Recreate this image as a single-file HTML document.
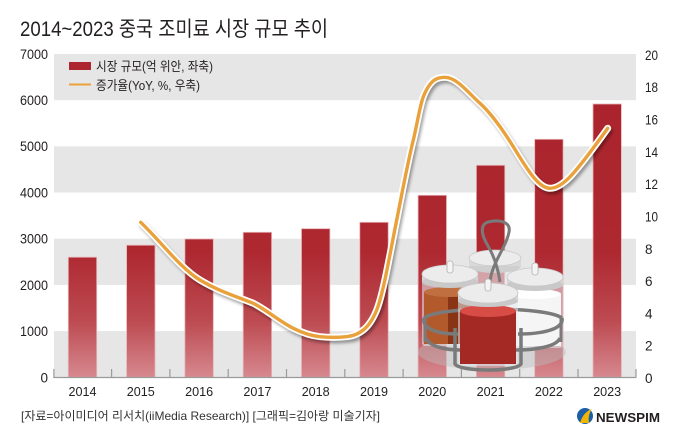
<!DOCTYPE html>
<html><head><meta charset="utf-8"><style>
html,body{margin:0;padding:0;background:#fff;}
svg{display:block;}
text{font-family:"Liberation Sans","Noto Sans CJK KR",sans-serif;}
</style></head><body>
<svg width="680" height="442" viewBox="0 0 680 442" xmlns="http://www.w3.org/2000/svg">
<defs>
<linearGradient id="bg" gradientUnits="userSpaceOnUse" x1="0" y1="100" x2="0" y2="377">
<stop offset="0" stop-color="#ab242d"/>
<stop offset="0.55" stop-color="#ae2830"/>
<stop offset="0.8" stop-color="#bd4b52"/>
<stop offset="1" stop-color="#d6888e"/>
</linearGradient>
<filter id="sh" x="-10%" y="-10%" width="120%" height="120%"><feGaussianBlur stdDeviation="1.6"/></filter>
</defs>
<rect width="680" height="442" fill="#fff"/>
<!-- title -->
<text x="20" y="36" font-size="21" fill="#231f20" textLength="308" lengthAdjust="spacingAndGlyphs">2014~2023 중국 조미료 시장 규모 추이</text>
<!-- bands -->
<g fill="#e6e6e6">
<rect x="54" y="54" width="582" height="46.2"/>
<rect x="54" y="146.3" width="582" height="46.2"/>
<rect x="54" y="238.7" width="582" height="46.2"/>
<rect x="54" y="331.1" width="582" height="46.2"/>
</g>
<!-- legend -->
<rect x="69" y="62" width="22" height="8" fill="#ad252e"/>
<text x="96" y="71" font-size="13" fill="#231f20" textLength="117" lengthAdjust="spacingAndGlyphs">시장 규모(억 위안, 좌축)</text>
<line x1="69" y1="84.5" x2="91" y2="84.5" stroke="#eaa33e" stroke-width="2"/>
<text x="96" y="90" font-size="13" fill="#231f20" textLength="104" lengthAdjust="spacingAndGlyphs">증가율(YoY, %, 우축)</text>
<!-- left axis labels -->
<g font-size="13.5" fill="#231f20" text-anchor="end">
<text x="48" y="59" textLength="28" lengthAdjust="spacingAndGlyphs">7000</text>
<text x="48" y="105" textLength="28" lengthAdjust="spacingAndGlyphs">6000</text>
<text x="48" y="151" textLength="28" lengthAdjust="spacingAndGlyphs">5000</text>
<text x="48" y="197.5" textLength="28" lengthAdjust="spacingAndGlyphs">4000</text>
<text x="48" y="243.7" textLength="28" lengthAdjust="spacingAndGlyphs">3000</text>
<text x="48" y="290" textLength="28" lengthAdjust="spacingAndGlyphs">2000</text>
<text x="48" y="336" textLength="28" lengthAdjust="spacingAndGlyphs">1000</text>
<text x="48" y="382.3">0</text>
</g>
<!-- right axis labels -->
<g font-size="13.5" fill="#231f20">
<text x="645" y="60" textLength="13" lengthAdjust="spacingAndGlyphs">20</text>
<text x="645" y="92" textLength="13" lengthAdjust="spacingAndGlyphs">18</text>
<text x="645" y="124.5" textLength="13" lengthAdjust="spacingAndGlyphs">16</text>
<text x="645" y="157" textLength="13" lengthAdjust="spacingAndGlyphs">14</text>
<text x="645" y="189" textLength="13" lengthAdjust="spacingAndGlyphs">12</text>
<text x="645" y="221.5" textLength="13" lengthAdjust="spacingAndGlyphs">10</text>
<text x="645" y="254">8</text>
<text x="645" y="286">6</text>
<text x="645" y="318.5">4</text>
<text x="645" y="350.5">2</text>
<text x="645" y="383">0</text>
</g>
<!-- bars -->
<g fill="url(#bg)" stroke="#e7b4b7" stroke-width="0.8">
<rect x="68.3" y="257.2" width="28.4" height="120.1"/>
<rect x="126.6" y="245.2" width="28.4" height="132.1"/>
<rect x="184.9" y="239" width="28.4" height="138.3"/>
<rect x="243.2" y="232.3" width="28.4" height="145"/>
<rect x="301.5" y="228.7" width="28.4" height="148.6"/>
<rect x="359.8" y="222.3" width="28.4" height="155"/>
<rect x="418.1" y="195.3" width="28.4" height="182"/>
<rect x="476.4" y="165.3" width="28.4" height="212"/>
<rect x="534.7" y="139.3" width="28.4" height="238"/>
<rect x="593" y="104" width="28.4" height="273.3"/>
</g>
<!-- baseline & ticks -->
<g stroke="#9a9a9a" stroke-width="1.2">
<line x1="53.4" y1="377.5" x2="636.3" y2="377.5"/>
<line x1="53.9" y1="369" x2="53.9" y2="377.5"/>
<line x1="111.6" y1="369" x2="111.6" y2="377.5"/>
<line x1="169.9" y1="369" x2="169.9" y2="377.5"/>
<line x1="228.2" y1="369" x2="228.2" y2="377.5"/>
<line x1="286.5" y1="369" x2="286.5" y2="377.5"/>
<line x1="344.8" y1="369" x2="344.8" y2="377.5"/>
<line x1="403.1" y1="369" x2="403.1" y2="377.5"/>
<line x1="461.4" y1="369" x2="461.4" y2="377.5"/>
<line x1="519.7" y1="369" x2="519.7" y2="377.5"/>
<line x1="578" y1="369" x2="578" y2="377.5"/>
<line x1="636" y1="369" x2="636" y2="377.5"/>
</g>
<!-- x labels -->
<g font-size="13" fill="#231f20" text-anchor="middle">
<text x="82.5" y="396" textLength="28" lengthAdjust="spacingAndGlyphs">2014</text>
<text x="140.8" y="396" textLength="28" lengthAdjust="spacingAndGlyphs">2015</text>
<text x="199.1" y="396" textLength="28" lengthAdjust="spacingAndGlyphs">2016</text>
<text x="257.4" y="396" textLength="28" lengthAdjust="spacingAndGlyphs">2017</text>
<text x="315.7" y="396" textLength="28" lengthAdjust="spacingAndGlyphs">2018</text>
<text x="374" y="396" textLength="28" lengthAdjust="spacingAndGlyphs">2019</text>
<text x="432.3" y="396" textLength="28" lengthAdjust="spacingAndGlyphs">2020</text>
<text x="490.6" y="396" textLength="28" lengthAdjust="spacingAndGlyphs">2021</text>
<text x="548.9" y="396" textLength="28" lengthAdjust="spacingAndGlyphs">2022</text>
<text x="607.2" y="396" textLength="28" lengthAdjust="spacingAndGlyphs">2023</text>
</g>
<!-- condiment illustration -->
<g>
<ellipse cx="492" cy="352" rx="74" ry="18" fill="#bdbdbd" opacity="0.45"/>
<!-- back jar -->
<rect x="470" y="262" width="50" height="40" fill="#e9eef0" fill-opacity="0.6"/>
<ellipse cx="495" cy="266" rx="26" ry="7" fill="#cfcfcf"/>
<rect x="469" y="258" width="52" height="8" fill="#d9d9d9"/>
<ellipse cx="495" cy="258" rx="26" ry="8" fill="#ececec" stroke="#c8c8c8" stroke-width="0.8"/>
<!-- handle -->
<path d="M490,282 C492,262 506,248 509,232 C511,222 500,219 488,222 C479,225 482,236 488,246 C494,256 498,268 500,282" fill="none" stroke="#7a7a7a" stroke-width="3"/>
<!-- left jar -->
<rect x="422" y="280" width="56" height="66" rx="3" fill="#e4ebee" fill-opacity="0.55"/>
<rect x="424" y="292" width="52" height="52" fill="#b35a2c"/>
<rect x="448" y="292" width="28" height="52" fill="#8a3416"/>
<ellipse cx="450" cy="292" rx="26" ry="5" fill="#c07040"/>
<rect x="422" y="274" width="56" height="8" fill="#d6d6d6"/>
<ellipse cx="450" cy="282" rx="28" ry="6" fill="#c9c9c9"/>
<ellipse cx="450" cy="274" rx="28" ry="9" fill="#ececec" stroke="#c8c8c8" stroke-width="0.8"/>
<rect x="447" y="261" width="6" height="12" rx="2.5" fill="#f4f4f4" stroke="#b0b0b0" stroke-width="0.8"/>
<!-- right jar -->
<rect x="507" y="282" width="56" height="66" rx="3" fill="#e4ebee" fill-opacity="0.55"/>
<rect x="509" y="294" width="52" height="52" fill="#f5f5f5"/>
<ellipse cx="535" cy="294" rx="26" ry="5" fill="#ffffff"/>
<rect x="507" y="277" width="56" height="8" fill="#d6d6d6"/>
<ellipse cx="535" cy="285" rx="28" ry="6" fill="#c9c9c9"/>
<ellipse cx="535" cy="277" rx="28" ry="9" fill="#ececec" stroke="#c8c8c8" stroke-width="0.8"/>
<rect x="532" y="263" width="6" height="12" rx="2.5" fill="#f4f4f4" stroke="#b0b0b0" stroke-width="0.8"/>
<!-- rack back ring -->
<path d="M424,318 C440,306 545,306 562,318" fill="none" stroke="#7a7a7a" stroke-width="3.5"/>
<!-- front jar -->
<rect x="458" y="298" width="60" height="68" rx="3" fill="#e4ebee" fill-opacity="0.55"/>
<rect x="460" y="311" width="56" height="53" fill="#a42824"/>
<ellipse cx="488" cy="311" rx="28" ry="6" fill="#d84c46"/>
<rect x="458" y="293" width="60" height="8" fill="#d6d6d6"/>
<ellipse cx="488" cy="301" rx="30" ry="6" fill="#c9c9c9"/>
<ellipse cx="488" cy="293" rx="30" ry="10" fill="#ececec" stroke="#c8c8c8" stroke-width="0.8"/>
<rect x="485" y="279" width="6" height="12" rx="2.5" fill="#f4f4f4" stroke="#b0b0b0" stroke-width="0.8"/>
<!-- rack front -->
<path d="M424,318 C422,330 440,334 458,334 M518,334 C540,334 564,330 562,318" fill="none" stroke="#7a7a7a" stroke-width="3.5"/>
<path d="M426,338 C430,348 450,350 460,350 M516,350 C530,350 556,348 560,338" fill="none" stroke="#7a7a7a" stroke-width="3.5"/>
<path d="M455,328 L455,364 C460,372 516,372 521,364 L521,328" fill="none" stroke="#7a7a7a" stroke-width="3.5"/>
<line x1="425" y1="318" x2="425" y2="342" stroke="#7a7a7a" stroke-width="3"/>
<line x1="561" y1="318" x2="561" y2="342" stroke="#7a7a7a" stroke-width="3"/>
</g>
<!-- growth line -->
<g fill="none" stroke-linecap="round" stroke-linejoin="round">
<path transform="translate(2,3)" filter="url(#sh)" stroke="#000" stroke-opacity="0.38" stroke-width="6" d="M140.7,222.3 C160.5,241.1 180.2,268.1 200,280 C217.8,290.7 235.5,296.2 253.3,303.3 C266.6,310 280,321.6 293.3,328.3 C302.2,332.75 311.1,335.8 320,336.7 C328.9,337.6 337.8,337.6 346.7,336.7 C352.2,336.1 357.8,334.4 363.3,330 C367.8,326.4 372.2,321.2 376.7,310 C383.4,293.3 390,253.3 396.7,220 C402.2,192.3 407.8,162.1 413.3,140 C416.6,126.7 420,105 423.3,96.7 C430.5,78.6 437.8,77.3 445,77.3 C456.7,77.3 468.3,92.8 480,103.3 C491.1,113.3 502.2,128.9 513.3,146.7 C525.5,166.3 537.8,188.3 550,188.3 C562.2,188.3 574.5,172.6 586.7,156.7 C593.7,147.6 600.7,138.1 607.7,128.3"/>
<path stroke="#ffffff" stroke-width="7" d="M140.7,222.3 C160.5,241.1 180.2,268.1 200,280 C217.8,290.7 235.5,296.2 253.3,303.3 C266.6,310 280,321.6 293.3,328.3 C302.2,332.75 311.1,335.8 320,336.7 C328.9,337.6 337.8,337.6 346.7,336.7 C352.2,336.1 357.8,334.4 363.3,330 C367.8,326.4 372.2,321.2 376.7,310 C383.4,293.3 390,253.3 396.7,220 C402.2,192.3 407.8,162.1 413.3,140 C416.6,126.7 420,105 423.3,96.7 C430.5,78.6 437.8,77.3 445,77.3 C456.7,77.3 468.3,92.8 480,103.3 C491.1,113.3 502.2,128.9 513.3,146.7 C525.5,166.3 537.8,188.3 550,188.3 C562.2,188.3 574.5,172.6 586.7,156.7 C593.7,147.6 600.7,138.1 607.7,128.3"/>
<path stroke="#e9a13b" stroke-width="3.4" d="M140.7,222.3 C160.5,241.1 180.2,268.1 200,280 C217.8,290.7 235.5,296.2 253.3,303.3 C266.6,310 280,321.6 293.3,328.3 C302.2,332.75 311.1,335.8 320,336.7 C328.9,337.6 337.8,337.6 346.7,336.7 C352.2,336.1 357.8,334.4 363.3,330 C367.8,326.4 372.2,321.2 376.7,310 C383.4,293.3 390,253.3 396.7,220 C402.2,192.3 407.8,162.1 413.3,140 C416.6,126.7 420,105 423.3,96.7 C430.5,78.6 437.8,77.3 445,77.3 C456.7,77.3 468.3,92.8 480,103.3 C491.1,113.3 502.2,128.9 513.3,146.7 C525.5,166.3 537.8,188.3 550,188.3 C562.2,188.3 574.5,172.6 586.7,156.7 C593.7,147.6 600.7,138.1 607.7,128.3"/>
</g>
<!-- source -->
<text x="21" y="420" font-size="12" fill="#333" textLength="359" lengthAdjust="spacingAndGlyphs">[자료=아이미디어 리서치(iiMedia Research)] [그래픽=김아랑 미술기자]</text>
<!-- logo -->
<circle cx="585" cy="416" r="8" fill="#1c5ea8"/>
<path d="M580,423 C582,416 586,411 592,409 C589,413 588,418 589,423 Z" fill="#f2b600"/>
<text x="596" y="422" font-size="13" font-weight="bold" fill="#231f20" textLength="64" lengthAdjust="spacingAndGlyphs">NEWSPIM</text>
</svg>
</body></html>
